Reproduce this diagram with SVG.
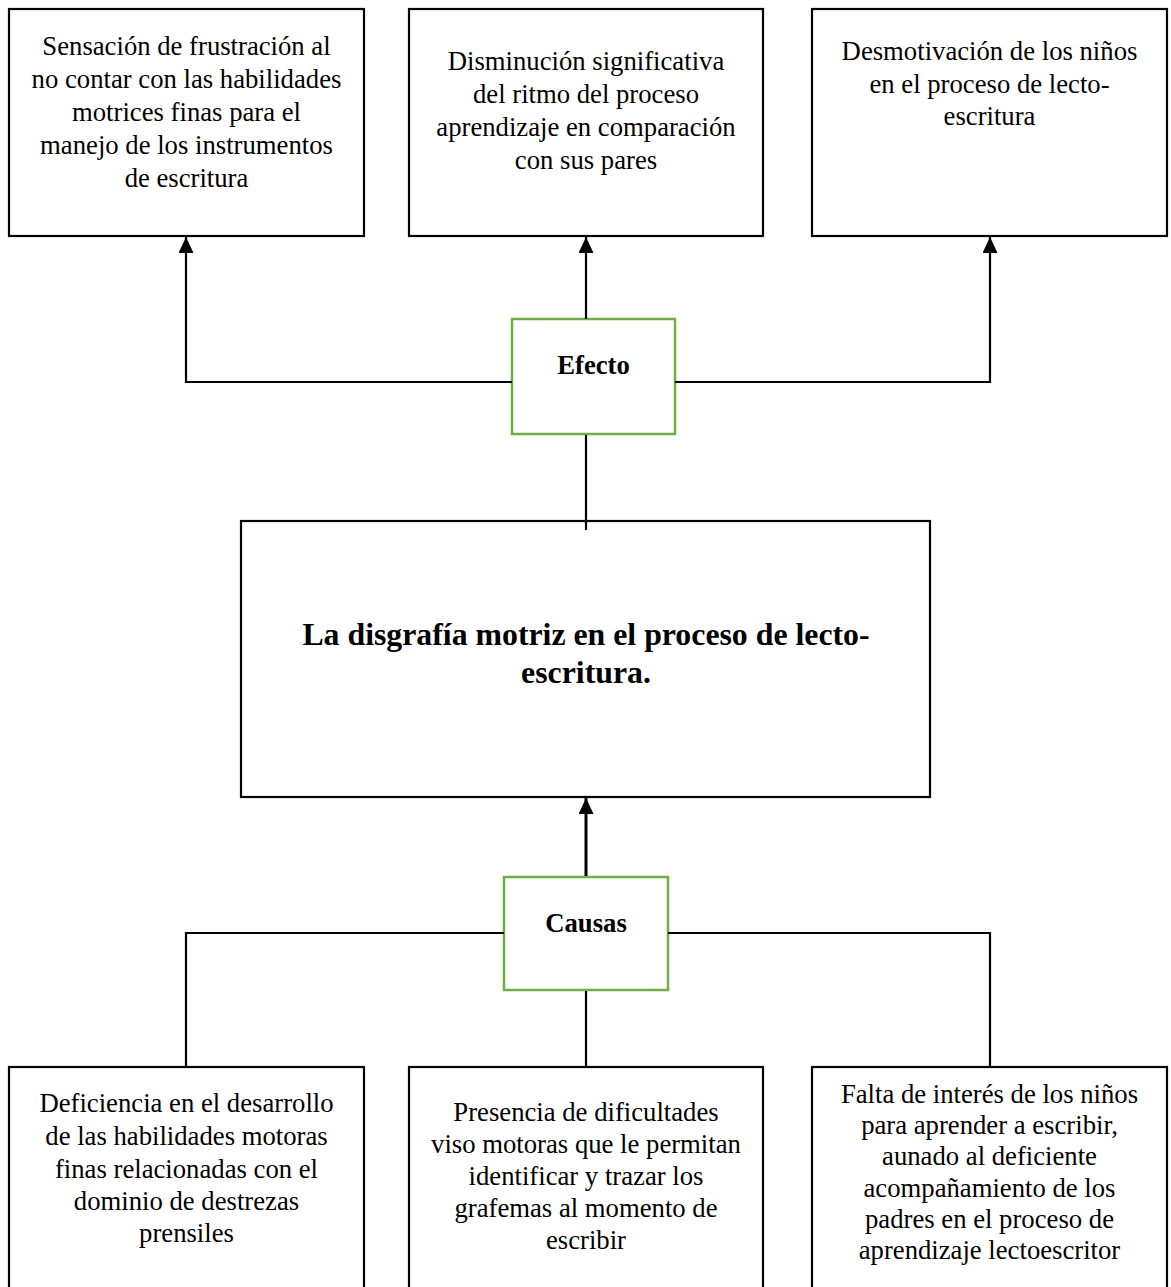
<svg xmlns="http://www.w3.org/2000/svg" width="1171" height="1287" viewBox="0 0 1171 1287">
<defs>
<style>
.box{fill:#fff;stroke:#000;stroke-width:2.2}
.gbox{fill:#fff;stroke:#70AD47;stroke-width:2.5}
.t{font-family:"Liberation Serif","Times New Roman",serif;font-size:26.7px;fill:#000;text-anchor:middle}
.tb{font-family:"Liberation Serif","Times New Roman",serif;font-size:26.7px;font-weight:bold;fill:#000;text-anchor:middle}
.title{font-family:"Liberation Serif","Times New Roman",serif;font-size:31.8px;font-weight:bold;fill:#000;text-anchor:middle}
.ln{fill:none;stroke:#000;stroke-width:2.2}
.lnb{fill:none;stroke:#000;stroke-width:3}
</style>
<marker id="arr" viewBox="0 0 16 15" refX="16" refY="7.5" markerWidth="16" markerHeight="15" markerUnits="userSpaceOnUse" orient="auto">
<path d="M0,0 L16,7.5 L0,15 Z" fill="#000"/>
</marker>
</defs>
<rect width="1171" height="1287" fill="#fff"/>
<g id="effect1">
<rect class="box" x="9" y="9" width="355" height="227"/>
<text class="t" x="186.5" y="55">Sensación de frustración al</text>
<text class="t" x="186.5" y="88">no contar con las habilidades</text>
<text class="t" x="186.5" y="121">motrices finas para el</text>
<text class="t" x="186.5" y="154">manejo de los instrumentos</text>
<text class="t" x="186.5" y="187">de escritura</text>
</g>
<g id="effect2">
<rect class="box" x="409" y="9" width="354" height="227"/>
<text class="t" x="586" y="70">Disminución significativa</text>
<text class="t" x="586" y="103">del ritmo del proceso</text>
<text class="t" x="586" y="136">aprendizaje en comparación</text>
<text class="t" x="586" y="169">con sus pares</text>
</g>
<g id="effect3">
<rect class="box" x="812" y="9" width="355" height="227"/>
<text class="t" x="989.5" y="60">Desmotivación de los niños</text>
<text class="t" x="989.5" y="93">en el proceso de lecto-</text>
<text class="t" x="989.5" y="125">escritura</text>
</g>
<g id="efecto">
<rect class="gbox" x="512" y="319" width="163" height="115"/>
<text class="tb" x="593.5" y="374">Efecto</text>
</g>
<g id="problem">
<rect class="box" x="241" y="521" width="689" height="276"/>
<text class="title" x="586" y="645">La disgrafía motriz en el proceso de lecto-</text>
<text class="title" x="586" y="683">escritura.</text>
</g>
<g id="causas">
<rect class="gbox" x="504" y="877" width="164" height="113"/>
<text class="tb" x="586" y="932">Causas</text>
</g>
<g id="cause1">
<rect class="box" x="9" y="1067" width="355" height="240"/>
<text class="t" x="186.5" y="1112">Deficiencia en el desarrollo</text>
<text class="t" x="186.5" y="1145">de las habilidades motoras</text>
<text class="t" x="186.5" y="1178">finas relacionadas con el</text>
<text class="t" x="186.5" y="1210">dominio de destrezas</text>
<text class="t" x="186.5" y="1242">prensiles</text>
</g>
<g id="cause2">
<rect class="box" x="409" y="1067" width="354" height="240"/>
<text class="t" x="586" y="1121">Presencia de dificultades</text>
<text class="t" x="586" y="1153">viso motoras que le permitan</text>
<text class="t" x="586" y="1185">identificar y trazar los</text>
<text class="t" x="586" y="1217">grafemas al momento de</text>
<text class="t" x="586" y="1249">escribir</text>
</g>
<g id="cause3">
<rect class="box" x="812" y="1067" width="355" height="240"/>
<text class="t" x="989.5" y="1103">Falta de interés de los niños</text>
<text class="t" x="989.5" y="1134">para aprender a escribir,</text>
<text class="t" x="989.5" y="1165">aunado al deficiente</text>
<text class="t" x="989.5" y="1197">acompañamiento de los</text>
<text class="t" x="989.5" y="1228">padres en el proceso de</text>
<text class="t" x="989.5" y="1259">aprendizaje lectoescritor</text>
</g>
<g id="connectors">
<path class="ln" d="M512,382 H186 V237" marker-end="url(#arr)"/>
<path class="ln" d="M675,382 H990 V237" marker-end="url(#arr)"/>
<path class="ln" d="M586,319 V237" marker-end="url(#arr)"/>
<path class="ln" d="M586,435 V530"/>
<path class="lnb" d="M586,876 V798" marker-end="url(#arr)"/>
<path class="ln" d="M504,933 H186 V1066"/>
<path class="ln" d="M668,933 H990 V1066"/>
<path class="ln" d="M586,991 V1066"/>
</g>
</svg>
